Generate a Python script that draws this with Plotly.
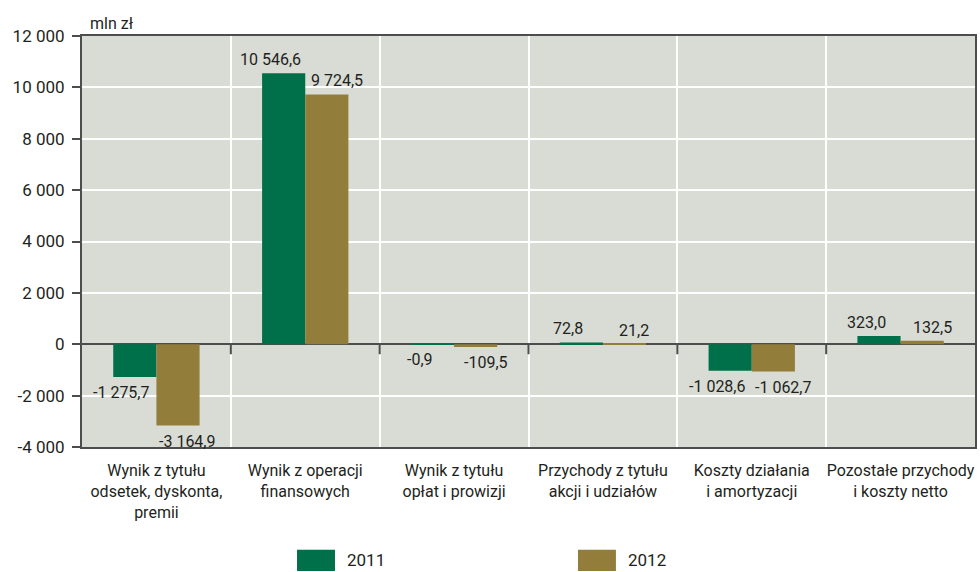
import plotly.graph_objects as go

categories = [
    "Wynik z tytułu<br>odsetek, dyskonta,<br>premii",
    "Wynik z operacji<br>finansowych",
    "Wynik z tytułu<br>opłat i prowizji",
    "Przychody z tytułu<br>akcji i udziałów",
    "Koszty działania<br>i amortyzacji",
    "Pozostałe przychody<br>i koszty netto",
]
values_2011 = [-1275.7, 10546.6, -0.9, 72.8, -1028.6, 323.0]
values_2012 = [-3164.9, 9724.5, -109.5, 21.2, -1062.7, 132.5]
y_ticks = [-4000, -2000, 0, 2000, 4000, 6000, 8000, 10000, 12000]

GREEN = "#00704a"
GOLD = "#937d3b"
FONT = "Roboto, sans-serif"
TXT = "#231f20"
AXIS = "#4d4d4d"


def pl(v, dec=1):
    # polish style: space for thousands, comma for decimals, plain hyphen
    return f"{v:,.{dec}f}".replace(",", " ").replace(".", ",")


fig = go.Figure()
series = [("2011", values_2011, GREEN, -21.5 - 13), ("2012", values_2012, GOLD, 21.5 + 10)]
for name, vals, col, dx in series:
    fig.add_trace(go.Bar(
        x=categories, y=vals, name=name, marker_color=col,
        marker_line_width=0, showlegend=False, hoverinfo="skip",
    ))
    # value labels, nudged sideways so neighbours don't collide
    for cat, v in zip(categories, vals):
        fig.add_annotation(x=cat, y=v, text=pl(v), showarrow=False,
                           xshift=dx, yshift=2 if v >= 0 else -4,
                           yanchor="bottom" if v >= 0 else "top",
                           font=dict(size=16, color=TXT))

# small ticks on the zero line between categories
for i in range(len(categories) - 1):
    fig.add_shape(type="line", xref="x", yref="y", x0=i + 0.5, x1=i + 0.5,
                  ysizemode="pixel", yanchor=0, y0=0, y1=-10,
                  line=dict(color=AXIS, width=2))

# legend drawn by hand (wide swatches like the original)
for name, col, x0 in [("2011", GREEN, 0.2408), ("2012", GOLD, 0.5554)]:
    fig.add_shape(type="rect", xref="paper", yref="paper",
                  x0=x0, x1=x0 + 0.0425, y0=-0.302, y1=-0.250,
                  fillcolor=col, line_width=0)
    fig.add_annotation(text=name, xref="paper", yref="paper", x=x0 + 0.054, y=-0.276,
                       xanchor="left", yanchor="middle", showarrow=False,
                       font=dict(size=17, color=TXT))

fig.add_annotation(text="mln zł", xref="paper", yref="paper", x=0.007, y=1.0,
                   xanchor="left", yanchor="bottom", yshift=1, showarrow=False,
                   font=dict(size=16, color=TXT))

fig.update_layout(
    width=980, height=572,
    margin=dict(l=82, r=5, t=36, b=125),
    paper_bgcolor="white", plot_bgcolor="#d8dcd5",
    font=dict(family=FONT, size=16, color=TXT),
    barmode="group", bargap=0.42, bargroupgap=0,
    showlegend=False,
    xaxis=dict(showgrid=True, gridcolor="white", gridwidth=2, tickson="boundaries",
               ticks="outside", ticklen=8, tickcolor="rgba(0,0,0,0)", tickangle=0,
               ticklabelstandoff=8,
               showline=True, linecolor=AXIS, linewidth=2, mirror=True,
               tickfont=dict(size=16), automargin=False),
    yaxis=dict(range=[-4000, 12000], tickvals=y_ticks,
               ticktext=[pl(v, 0) for v in y_ticks],
               showgrid=True, gridcolor="white", gridwidth=2,
               zeroline=True, zerolinecolor=AXIS, zerolinewidth=2,
               ticks="outside", ticklen=8, tickcolor=AXIS, tickwidth=2,
               ticklabelstandoff=4,
               showline=True, linecolor=AXIS, linewidth=2, mirror=True,
               tickfont=dict(size=17), automargin=False),
)

fig.write_html("out.html", config={"displayModeBar": False},
               post_script="document.body.style.margin='0';")
